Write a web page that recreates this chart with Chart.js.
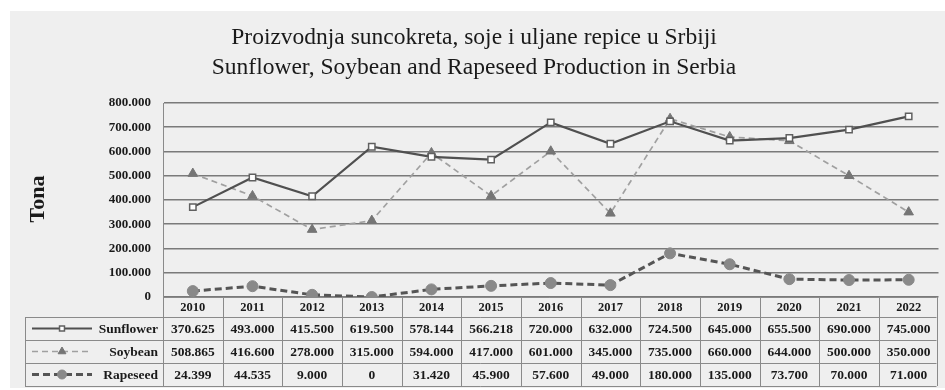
<!DOCTYPE html>
<html>
<head>
<meta charset="utf-8">
<title>Proizvodnja suncokreta, soje i uljane repice u Srbiji</title>
<script src="https://cdn.jsdelivr.net/npm/chart.js@4.4.1/dist/chart.umd.min.js"></script>
<style>
    html, body { margin: 0; padding: 0; background: #fff; }
    #wrap { position: relative; width: 945px; height: 390px; }
</style>
</head>
<body>
<div id="wrap"><canvas id="production-chart" width="945" height="390"></canvas></div>
<script>
var years = ['2010', '2011', '2012', '2013', '2014', '2015', '2016', '2017', '2018', '2019', '2020', '2021', '2022'];
var sunflower = [370625, 493000, 415500, 619500, 578144, 566218, 720000, 632000, 724500, 645000, 655500, 690000, 745000];
var soybean = [508865, 416600, 278000, 315000, 594000, 417000, 601000, 345000, 735000, 660000, 644000, 500000, 350000];
var rapeseed = [24399, 44535, 9000, 0, 31420, 45900, 57600, 49000, 180000, 135000, 73700, 70000, 71000];
var titleLines = ['Proizvodnja suncokreta, soje i uljane repice u Srbiji', 'Sunflower, Soybean and Rapeseed Production in Serbia'];

var SERIF = '"Liberation Serif", "Times New Roman", serif';
var TEXT = '#1a1a1a';
var LINE = '#8a8a8a';

// table row edges below the plot (header, then one row per series)
var rowEdges = [297, 317, 340, 363, 386];
var tableLeft = 25;

function fmt(v) {
    return String(v).replace(/\B(?=(\d{3})+(?!\d))/g, '.');
}

var seriesStyles = [
    { label: 'Sunflower', data: sunflower, borderColor: '#505050', borderWidth: 2.2, borderDash: [],
      pointStyle: 'rect', pointRadius: 4.5, pointBackgroundColor: '#ffffff', pointBorderColor: '#606060', pointBorderWidth: 1.5 },
    { label: 'Soybean', data: soybean, borderColor: '#a0a0a0', borderWidth: 1.7, borderDash: [6, 4],
      pointStyle: 'triangle', pointRadius: 5.5, pointBackgroundColor: '#757575', pointBorderColor: '#757575', pointBorderWidth: 1 },
    { label: 'Rapeseed', data: rapeseed, borderColor: '#555555', borderWidth: 3, borderDash: [7, 4],
      pointStyle: 'circle', pointRadius: 5.5, pointBackgroundColor: '#898989', pointBorderColor: '#898989', pointBorderWidth: 1 }
];

var frame = {
    id: 'frame',
    beforeDraw: function(chart) {
        var ctx = chart.ctx;
        ctx.save();
        ctx.fillStyle = '#ffffff';
        ctx.fillRect(0, 0, chart.width, chart.height);
        ctx.fillStyle = '#efefef';
        ctx.fillRect(10, 11, chart.width - 10, chart.height - 13);

        ctx.fillStyle = TEXT;
        ctx.textAlign = 'center';
        ctx.textBaseline = 'middle';
        ctx.font = '23.5px ' + SERIF;
        ctx.fillText(titleLines[0], 474, 38);
        ctx.fillText(titleLines[1], 474, 68);

        ctx.font = 'bold 22px ' + SERIF;
        ctx.translate(38, 199);
        ctx.rotate(-Math.PI / 2);
        ctx.fillText('Tona', 0, 0);
        ctx.restore();
    },
    afterDraw: function(chart) {
        var ctx = chart.ctx;
        var x = chart.scales.x;
        var area = chart.chartArea;
        var colW = (area.right - area.left) / years.length;
        var right = area.right - 2;

        ctx.save();
        ctx.strokeStyle = LINE;
        ctx.lineWidth = 1;

        // horizontal rules
        for (var r = 0; r < rowEdges.length; r++) {
            var y = rowEdges[r] + 0.5;
            ctx.beginPath();
            ctx.moveTo(r === 0 ? area.left : tableLeft, y);
            ctx.lineTo(right, y);
            ctx.stroke();
        }
        // vertical rules
        ctx.beginPath();
        ctx.moveTo(tableLeft + 0.5, rowEdges[1]);
        ctx.lineTo(tableLeft + 0.5, rowEdges[4]);
        for (var c = 0; c <= years.length; c++) {
            var vx = Math.round(c === years.length ? right : area.left + c * colW) + 0.5;
            ctx.moveTo(vx, rowEdges[0]);
            ctx.lineTo(vx, rowEdges[4]);
        }
        ctx.stroke();

        ctx.fillStyle = TEXT;
        ctx.textAlign = 'center';
        ctx.textBaseline = 'middle';
        ctx.font = 'bold 12.5px ' + SERIF;
        years.forEach(function(yr, i) {
            ctx.fillText(yr, x.getPixelForValue(i), (rowEdges[0] + rowEdges[1]) / 2 + 1);
        });

        ctx.font = 'bold 13.5px ' + SERIF;
        seriesStyles.forEach(function(s, row) {
            var cy = (rowEdges[row + 1] + rowEdges[row + 2]) / 2 + 1;
            s.data.forEach(function(v, i) {
                ctx.fillText(fmt(v), x.getPixelForValue(i), cy);
            });
        });

        // legend keys in the first column
        ctx.textAlign = 'right';
        seriesStyles.forEach(function(s, row) {
            var cy = (rowEdges[row + 1] + rowEdges[row + 2]) / 2;
            ctx.fillStyle = TEXT;
            ctx.fillText(s.label, area.left - 5, cy + 1);

            ctx.save();
            ctx.strokeStyle = s.borderColor;
            ctx.lineWidth = s.borderWidth;
            ctx.setLineDash(s.borderDash);
            ctx.beginPath();
            ctx.moveTo(32, cy);
            ctx.lineTo(92, cy);
            ctx.stroke();
            ctx.setLineDash([]);
            ctx.fillStyle = s.pointBackgroundColor;
            ctx.strokeStyle = s.pointBorderColor;
            ctx.lineWidth = s.pointBorderWidth;
            Chart.helpers.drawPoint(ctx, { pointStyle: s.pointStyle, radius: s.pointRadius - 1, rotation: 0, borderWidth: s.pointBorderWidth }, 62, cy);
            ctx.restore();
        });
        ctx.restore();
    }
};

new Chart(document.getElementById('production-chart').getContext('2d'), {
    type: 'line',
    data: {
        labels: years,
        datasets: seriesStyles.map(function(s) {
            return {
                label: s.label,
                data: s.data,
                borderColor: s.borderColor,
                borderWidth: s.borderWidth,
                borderDash: s.borderDash,
                pointStyle: s.pointStyle,
                pointRadius: s.pointRadius,
                pointBackgroundColor: s.pointBackgroundColor,
                pointBorderColor: s.pointBorderColor,
                pointBorderWidth: s.pointBorderWidth,
                fill: false,
                tension: 0
            };
        })
    },
    options: {
        responsive: false,
        animation: false,
        layout: { padding: { top: 103, bottom: 93, left: 0, right: 0 } },
        plugins: {
            legend: { display: false },
            title: { display: false },
            tooltip: { enabled: false }
        },
        scales: {
            x: { type: 'category', offset: true, display: false, grid: { display: false } },
            y: {
                min: 0, max: 800000,
                afterFit: function(scale) { scale.width = 163; },
                border: { display: true, color: LINE, width: 1 },
                grid: { color: '#7a7a7a', lineWidth: 1.6, drawTicks: false },
                ticks: {
                    stepSize: 100000,
                    padding: 12,
                    color: TEXT,
                    font: { family: SERIF, size: 13, weight: 'bold' },
                    callback: function(v) { return fmt(v); }
                }
            }
        }
    },
    plugins: [frame]
});
</script>
</body>
</html>
